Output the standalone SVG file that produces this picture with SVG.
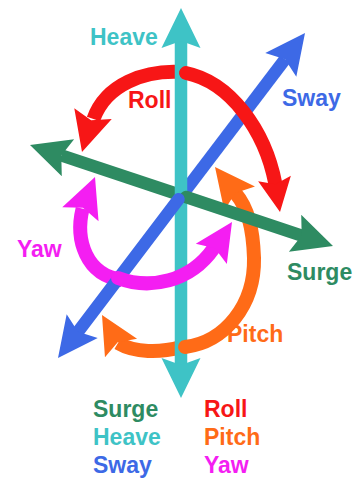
<svg xmlns="http://www.w3.org/2000/svg" xmlns:xlink="http://www.w3.org/1999/xlink" width="363" height="479" viewBox="0 0 363 479">
<style>
.ax{fill:none;stroke-width:12.5;stroke-linecap:butt}
.arc{fill:none;stroke-width:14;stroke-linecap:butt}
.rc{stroke-linecap:round}
.cy{stroke:#3ec3c6}.cyf{fill:#3ec3c6}
.bl{stroke:#3d69e6}.blf{fill:#3d69e6}
.gr{stroke:#2e8b62}.grf{fill:#2e8b62}
.rd{stroke:#f71616}.rdf{fill:#f71616}
.or{stroke:#ff6b17}.orf{fill:#ff6b17}
.mg{stroke:#f41ef2}.mgf{fill:#f41ef2}
text{font-family:"Liberation Sans",Arial,sans-serif;font-weight:bold;font-size:23px}
</style>
<defs>
<path id="ah" d="M0,0 L-40,-19.5 L-33,0 L-40,19.5 Z"/>
</defs>
<rect width="363" height="479" fill="#ffffff"/>
<g id="connectors">
<g id="roll-back">
<path class="arc rd" d="M181,72 C145,70 106,84 93.5,119"/>
<use xlink:href="#ah" class="rdf" transform="translate(82,152) rotate(106)"/>
</g>
<g id="pitch-back">
<path class="arc or" d="M181,347 C160,353 135,353 118,343"/>
<use xlink:href="#ah" class="orf" transform="translate(102,315) rotate(-120) scale(0.95)"/>
</g>
<path id="surge-back" class="ax gr" d="M61.3,155.4 L181,195.3"/>
<g id="sway-back">
<path class="ax bl" d="M181,196.2 L285,59.3"/>
<use xlink:href="#ah" class="blf" transform="translate(305,33) rotate(-52.77)"/>
</g>
<g id="heave">
<path class="ax cy" d="M181,41 L181,365"/>
<use xlink:href="#ah" class="cyf" transform="translate(181,8) rotate(-90)"/>
<use xlink:href="#ah" class="cyf" transform="translate(181,398) rotate(90)"/>
</g>
<g id="pitch-front">
<path class="arc or rc" d="M185,347 C225,342 255,305 254,258 C253,228 248,208 235.3,193"/>
<use xlink:href="#ah" class="orf" transform="translate(215,167) rotate(-128)"/>
</g>
<g id="surge-front">
<path class="ax gr rc" d="M186,197 L301.7,235.6"/>
<use xlink:href="#ah" class="grf" transform="translate(333,246) rotate(18.43)"/>
<use xlink:href="#ah" class="grf" transform="translate(30,145) rotate(198.43)"/>
</g>
<g id="yaw-back">
<path class="arc mg" d="M82.6,208.7 C75,240 86,275 122,280"/>
<use xlink:href="#ah" class="mgf" transform="translate(95,177) rotate(-68.6)"/>
</g>
<g id="sway-front">
<path class="ax bl rc" d="M178.5,199.3 L78,331.7"/>
<use xlink:href="#ah" class="blf" transform="translate(58,358) rotate(127.23)"/>
</g>
<g id="roll-front">
<path class="arc rd rc" d="M186,73 C230,82 265,130 275.3,183.5"/>
<use xlink:href="#ah" class="rdf" transform="translate(280,212) rotate(80.7) scale(0.85)"/>
</g>
<g id="yaw-front">
<path class="arc mg rc" d="M118,278 C150,290 190,282 213.5,248.5"/>
<use xlink:href="#ah" class="mgf" transform="translate(232,222) rotate(-57) scale(0.95)"/>
</g>
</g>
<g id="labels">
<text x="90" y="45" class="cyf">Heave</text>
<text x="128" y="108" class="rdf">Roll</text>
<text x="282" y="106" class="blf">Sway</text>
<text x="17" y="257" class="mgf">Yaw</text>
<text x="287" y="280" class="grf">Surge</text>
<text x="227" y="342" class="orf">Pitch</text>
</g>
<g id="legend">
<text x="93" y="417" class="grf">Surge</text>
<text x="93" y="445" class="cyf">Heave</text>
<text x="93" y="473" class="blf">Sway</text>
<text x="204" y="417" class="rdf">Roll</text>
<text x="204" y="445" class="orf">Pitch</text>
<text x="204" y="473" class="mgf">Yaw</text>
</g>
</svg>
